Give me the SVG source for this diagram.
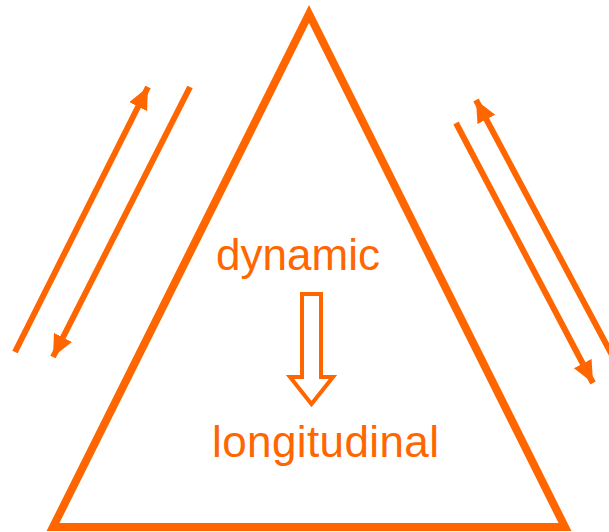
<svg xmlns="http://www.w3.org/2000/svg" width="609" height="532" viewBox="0 0 609 532">
<style>
.c{stroke:#FF6600;fill:none}
.ar{stroke:#FF6600;stroke-width:6;fill:none;marker-end:url(#ah)}
.t{font-family:"Liberation Sans",Arial,sans-serif;font-size:44px;fill:#FF6600}
</style>
<defs>
<marker id="ah" markerUnits="userSpaceOnUse" markerWidth="24" markerHeight="22" refX="22" refY="10" orient="auto">
<path d="M0,0 L22,10 L0,20 Z" fill="#FF6600"/>
</marker>
</defs>
<g id="triangle"><polygon class="c" stroke-width="8" points="309,14 53,527 565,527"/></g>
<g id="connectors">
<line class="ar" x1="15" y1="352" x2="148" y2="87"/>
<line class="ar" x1="190" y1="87" x2="53" y2="357"/>
<line class="ar" x1="612" y1="355" x2="476" y2="100"/>
<line class="ar" x1="456" y1="123" x2="593" y2="383"/>
</g>
<g id="dynamic"><text class="t" x="216" y="270" textLength="164">dynamic</text></g>
<g id="hollow-arrow"><path class="c" stroke-width="4" stroke-linejoin="miter" d="M302,294 H321 V377 H333 L311.5,404 L290,377 H302 Z"/></g>
<g id="longitudinal"><text class="t" x="212" y="457" textLength="227">longitudinal</text></g>
</svg>
